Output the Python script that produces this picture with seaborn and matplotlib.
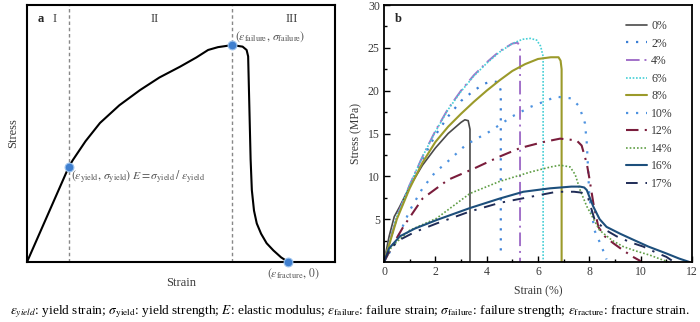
import numpy as np
import pandas as pd
import matplotlib
matplotlib.use("Agg")
import matplotlib.pyplot as plt
import seaborn as sns

sns.set_theme(style="white")
plt.rcParams["font.family"] = ["Liberation Serif", "DejaVu Serif"]
plt.rcParams["mathtext.fontset"] = "stix"

# ---- panel a: schematic stress-strain curve (normalised units) ----
schem_strain = [0.0, 0.136, 0.149, 0.19, 0.237, 0.30, 0.367, 0.43, 0.497, 0.55,
                0.588, 0.62, 0.666, 0.70, 0.713, 0.718, 0.722, 0.726, 0.73,
                0.737, 0.746, 0.76, 0.778, 0.80, 0.825, 0.848]
schem_stress = [0.0, 0.371, 0.397, 0.47, 0.541, 0.61, 0.669, 0.718, 0.76, 0.796,
                0.825, 0.836, 0.844, 0.838, 0.825, 0.80, 0.60, 0.40, 0.28,
                0.20, 0.15, 0.11, 0.073, 0.045, 0.018, 0.0]
key_strain = [0.136, 0.666, 0.848]
key_stress = [0.371, 0.844, 0.0]
stage_bounds = [0.136, 0.666]
stage_labels = ["I", "II", "III"]
stage_pos = [0.09, 0.415, 0.86]

# ---- panel b: measured curves, strain (%) vs stress (MPa) ----
labels = ["0%", "2%", "4%", "6%", "8%", "10%", "12%", "14%", "16%", "17%"]

x0 = [0, 0.2, 0.4, 0.6, 1.0, 1.5, 2.0, 2.5, 3.0, 3.15, 3.28, 3.35, 3.35]
y0 = [0, 3.0, 5.3, 6.4, 8.8, 11.3, 13.3, 15.0, 16.3, 16.6, 16.5, 15.5, 0]

x2 = [0, 0.5, 1.0, 1.5, 2.0, 2.5, 3.0, 3.5, 3.9, 4.2, 4.45, 4.55, 4.55]
y2 = [0, 5.2, 8.8, 12.0, 14.8, 17.0, 18.8, 20.0, 20.8, 21.1, 21.0, 20.0, 0.7]

x4 = [0, 0.5, 1.0, 1.5, 2.0, 2.5, 3.0, 3.5, 4.0, 4.5, 5.0, 5.2, 5.3, 5.3]
y4 = [0, 5.3, 9.0, 12.3, 15.3, 17.9, 20.0, 21.8, 23.3, 24.6, 25.5, 25.6, 25.2, 0]

x6 = [0, 0.5, 1.0, 1.5, 2.0, 2.5, 3.0, 3.5, 4.0, 4.5, 5.0, 5.4, 5.7, 5.95, 6.1, 6.2, 6.2]
y6 = [0, 5.3, 9.0, 12.3, 15.2, 17.8, 19.9, 21.7, 23.2, 24.5, 25.5, 26.0, 26.1, 25.9, 25.2, 24.0, 0]

x8 = [0, 0.5, 1.0, 1.5, 2.0, 2.5, 3.0, 3.5, 4.0, 4.5, 5.0, 5.5, 6.0, 6.5, 6.8, 6.88, 6.92, 6.92]
y8 = [0, 5.0, 8.6, 11.6, 14.0, 15.8, 17.3, 18.7, 20.0, 21.2, 22.3, 23.1, 23.7, 23.9, 23.9, 23.5, 22.5, 0]

x10 = [0, 0.5, 1.0, 1.5, 2.0, 2.4, 3.2, 4.1, 5.0, 5.7, 6.3, 6.7, 7.3, 7.6, 7.83,
       7.9, 7.95, 8.0, 8.2, 8.48, 8.67]
y10 = [0, 2.6, 6.0, 8.6, 10.5, 11.5, 13.7, 15.2, 17.0, 18.1, 18.8, 19.3, 19.1, 18.2, 16.2,
       13.9, 11.0, 7.6, 3.7, 1.8, 0.3]

x12 = [0, 0.4, 0.75, 1.5, 2.5, 3.5, 4.5, 5.3, 6.2, 6.86, 7.5, 7.7, 7.9, 8.0, 8.16,
       8.35, 8.6, 8.93, 9.3, 9.7, 10.0]
y12 = [0, 2.3, 4.1, 7.4, 9.6, 10.9, 12.3, 13.3, 14.0, 14.4, 14.2, 13.6, 11.5, 9.8, 6.8,
       4.1, 3.0, 2.2, 1.4, 0.6, 0.1]

x14 = [0, 0.3, 1.0, 2.05, 3.35, 4.5, 5.7, 6.5, 6.86, 7.25, 7.45, 7.64, 7.9, 8.4,
       8.9, 9.32, 9.8, 10.36, 10.8, 11.1]
y14 = [0, 1.8, 3.7, 5.1, 8.0, 9.4, 10.5, 11.1, 11.3, 11.1, 10.2, 8.4, 6.5, 3.7,
       2.5, 1.8, 1.3, 0.8, 0.3, 0.0]

x16 = [0, 0.2, 0.62, 1.2, 2.05, 3.35, 4.5, 5.43, 6.47, 7.3, 7.64, 7.8, 7.9, 8.15,
       8.4, 8.67, 9.2, 9.71, 10.3, 11.0, 11.5, 11.9]
y16 = [0, 1.6, 3.0, 3.9, 4.9, 6.3, 7.4, 8.2, 8.6, 8.8, 8.8, 8.7, 8.4, 6.5,
       5.0, 4.1, 3.3, 2.6, 1.8, 1.0, 0.4, 0.0]

x17 = [0, 0.2, 0.62, 1.2, 2.05, 3.35, 4.5, 5.69, 6.73, 7.4, 7.7, 7.95, 8.2, 8.6,
       9.06, 9.6, 10.1, 10.6, 11.0, 11.3]
y17 = [0, 1.4, 2.6, 3.5, 4.5, 5.9, 6.9, 7.6, 8.2, 8.2, 8.1, 7.5, 5.0, 3.8,
       3.0, 2.3, 1.8, 1.1, 0.6, 0.0]

curves_x = [x0, x2, x4, x6, x8, x10, x12, x14, x16, x17]
curves_y = [y0, y2, y4, y6, y8, y10, y12, y14, y16, y17]

colors = ["#4a4a4a", "#3b7fd6", "#a271c9", "#45cfd6", "#9b9a2a",
          "#4d92e0", "#7a1d3c", "#5f9e45", "#1d4f7c", "#1f2c57"]
dashes = [None, (1, 3.5), (7, 2.5, 1, 2.5), (1, 1), None,
          (1, 3.5), (6, 3, 1, 3), (1, 1.2), None, (6, 4, 1.2, 4)]
widths = [1.2, 1.6, 1.4, 1.2, 1.5, 1.6, 1.5, 1.2, 1.5, 1.4]

fig = plt.figure(figsize=(7.0, 3.22), dpi=100)
W, H = 700.0, 322.0
ax1 = fig.add_axes([27 / W, 1 - 262 / H, 308 / W, 257 / H])
ax2 = fig.add_axes([384 / W, 1 - 262 / H, 308 / W, 257 / H])

text_col = "#3a3a3a"

# ---------------- panel a ----------------
dfa = pd.DataFrame({"strain": schem_strain, "stress": schem_stress})
sns.lineplot(data=dfa, x="strain", y="stress", sort=False, estimator=None,
             errorbar=None, color="black", linewidth=1.5, ax=ax1)
for xb in stage_bounds:
    ax1.axvline(xb, color="#888888", linestyle=(0, (2.5, 2)), linewidth=1.0, zorder=1)
sns.scatterplot(x=key_strain, y=key_stress, ax=ax1, s=40, color="#3f7fcf",
                edgecolor="#9cc3ee", linewidth=0.8, zorder=5, clip_on=False)
ax1.set_xlim(0, 1)
ax1.set_ylim(0, 1)
ax1.set_xticks([])
ax1.set_yticks([])
for s in ax1.spines.values():
    s.set_color("black")
    s.set_linewidth(1.5)
ax1.set_xlabel("Strain", fontsize=9, color=text_col, labelpad=11)
ax1.set_ylabel("Stress", fontsize=9, color=text_col, labelpad=6)
ax1.text(0.033, 0.945, "a", transform=ax1.transAxes, fontsize=9,
         fontweight="bold", va="center", ha="left")
for lab, xp in zip(stage_labels, stage_pos):
    ax1.text(xp, 0.945, lab, fontsize=9, color=text_col, ha="center", va="center")
ax1.text(0.142, 0.33,
         r"$(\varepsilon_{\rm yield},\,\sigma_{\rm yield})\;E=\sigma_{\rm yield}\;/\;\varepsilon_{\rm yield}$",
         fontsize=8.5, color="#555555", ha="left", va="center")
ax1.text(0.675, 0.875, r"$(\varepsilon_{\rm failure},\,\sigma_{\rm failure})$",
         fontsize=8.5, color="#555555", ha="left", va="center")
ax1.text(0.78, -0.045, r"$(\varepsilon_{\rm fracture},\,0)$",
         fontsize=8.5, color="#555555", ha="left", va="center")

# ---------------- panel b ----------------
for lab, xs, ys, c, d, w in zip(labels, curves_x, curves_y, colors, dashes, widths):
    df = pd.DataFrame({"strain": xs, "stress": ys})
    ls = "-" if d is None else (0, d)
    sns.lineplot(data=df, x="strain", y="stress", sort=False, estimator=None,
                 errorbar=None, color=c, linewidth=w, linestyle=ls, label=lab, ax=ax2)

ax2.set_xlim(0, 12)
ax2.set_ylim(0, 30)
ax2.set_xticks(np.arange(0, 13, 2))
ax2.set_yticks(np.arange(5, 31, 5))
ax2.set_xticks(np.arange(1, 12, 2), minor=True)
ax2.set_yticks(np.arange(2.5, 30, 5), minor=True)
ax2.tick_params(axis="both", which="major", direction="in", length=4, width=1,
                labelsize=8.5, colors="black", labelcolor=text_col, pad=3)
ax2.tick_params(axis="both", which="minor", direction="in", length=2.5, width=1,
                colors="black")
ax2.tick_params(axis="x", which="both", bottom=True, top=False)
ax2.tick_params(axis="y", which="both", left=True, right=False)
for s in ax2.spines.values():
    s.set_color("black")
    s.set_linewidth(1.3)
ax2.set_xlabel("Strain (%)", fontsize=8.5, color=text_col, labelpad=5)
ax2.set_ylabel("Stress (MPa)", fontsize=8.5, color=text_col, labelpad=4)
ax2.text(0.035, 0.945, "b", transform=ax2.transAxes, fontsize=9,
         fontweight="bold", va="center", ha="left")
leg = ax2.legend(loc="upper left", bbox_to_anchor=(0.77, 0.96), frameon=False,
                 fontsize=8.5, handlelength=1.8, handletextpad=0.35,
                 labelspacing=0.47, borderaxespad=0)
for t in leg.get_texts():
    t.set_color(text_col)

# ---------------- caption ----------------
caption = (r"$\varepsilon_{yield}$: yield strain; $\sigma_{\rm yield}$: yield strength; "
           r"$E$: elastic modulus; $\varepsilon_{\rm failure}$: failure strain; "
           r"$\sigma_{\rm failure}$: failure strength; $\varepsilon_{\rm fracture}$: fracture strain.")
fig.text(0.5, 1 - 312 / H, caption, fontsize=9.6, ha="center", va="center",
         color="black")

fig.savefig("out.png", dpi=100)
